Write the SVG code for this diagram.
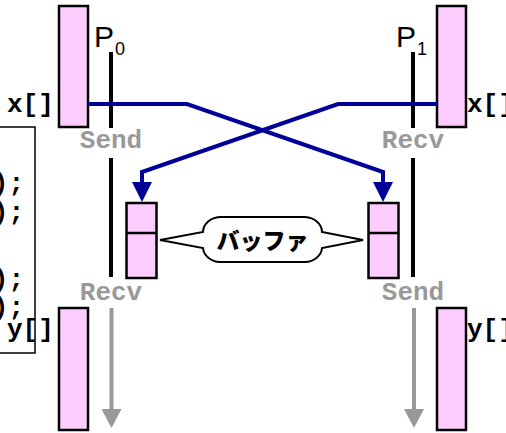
<svg xmlns="http://www.w3.org/2000/svg" width="506" height="433" viewBox="0 0 506 433">
<style>
.arr{fill:#FFCCFF;stroke:#000;stroke-width:2.5}
.mono{font-family:"Liberation Mono","Courier New",monospace;font-weight:bold;font-size:26px}
.lbl{fill:#999999;text-anchor:middle}
.proc{font-family:"Liberation Sans",Arial,sans-serif;font-size:30px;fill:#000}
.sub{font-size:18px}
.tl{stroke:#000;stroke-width:4;fill:none}
.ga{stroke:#999999;stroke-width:4;fill:none;marker-end:url(#ga)}
.bl{stroke:#000099;stroke-width:4;fill:none;stroke-linejoin:miter;marker-end:url(#ba)}
</style>
<defs>
<marker id="ba" markerUnits="userSpaceOnUse" markerWidth="20" markerHeight="20" refX="0" refY="10" orient="auto" viewBox="0 0 20 20">
<path d="M0,0 L20,10 L0,20 Z" fill="#000099"/>
</marker>
<marker id="ga" markerUnits="userSpaceOnUse" markerWidth="20" markerHeight="20" refX="0" refY="10" orient="auto" viewBox="0 0 20 20">
<path d="M0,0 L19,10 L0,20 Z" fill="#999999"/>
</marker>
</defs>
<rect width="506" height="433" fill="#fff"/>

<g id="code">
<rect x="-2" y="127" width="37" height="226" fill="none" stroke="#000" stroke-width="1.5"/>
<text class="mono" x="24" y="191" text-anchor="end">);</text>
<text class="mono" x="24" y="220" text-anchor="end">);</text>
<text class="mono" x="24" y="287" text-anchor="end">);</text>
<text class="mono" x="24" y="315" text-anchor="end">);</text>
</g>

<g id="p0">
<text class="proc" x="94" y="47">P<tspan class="sub" dx="1" dy="8">0</tspan></text>
<line class="tl" x1="111" y1="52" x2="111" y2="128"/>
<line class="tl" x1="111" y1="158" x2="111" y2="277"/>
<text class="mono lbl" x="111" y="148">Send</text>
<text class="mono lbl" x="111" y="300">Recv</text>
</g>

<g id="p1">
<text class="proc" x="396" y="47">P<tspan class="sub" dx="1" dy="8">1</tspan></text>
<line class="tl" x1="413" y1="52" x2="413" y2="128"/>
<line class="tl" x1="413" y1="158" x2="413" y2="277"/>
<text class="mono lbl" x="413" y="148">Recv</text>
<text class="mono lbl" x="413" y="300">Send</text>
</g>

<g id="x0">
<rect class="arr" x="59" y="6" width="29" height="121"/>
<text class="mono" x="7" y="112">x[]</text>
</g>
<g id="x1">
<rect class="arr" x="437" y="6" width="29" height="121"/>
<text class="mono" x="467" y="112">x[]</text>
</g>
<g id="y0">
<rect class="arr" x="59" y="308" width="29" height="122"/>
<text class="mono" x="7" y="337">y[]</text>
</g>
<g id="y1">
<rect class="arr" x="437" y="308" width="29" height="122"/>
<text class="mono" x="467" y="337">y[]</text>
</g>

<g id="buf0">
<rect class="arr" x="126.5" y="203" width="30" height="75"/>
<line x1="126.5" y1="233" x2="156.5" y2="233" stroke="#000" stroke-width="2.5"/>
</g>
<g id="buf1">
<rect class="arr" x="368.5" y="203" width="30" height="75"/>
<line x1="368.5" y1="233" x2="398.5" y2="233" stroke="#000" stroke-width="2.5"/>
</g>

<g id="callout">
<path d="M220,217 H305 A18,15 0 0 1 322,232 L363,240 L322,248 A18,15 0 0 1 305,262 H220 A18,15 0 0 1 203,248 L160,240 L203,232 A18,15 0 0 1 220,217 Z" fill="#fff" stroke="#000" stroke-width="2"/>
<text x="262.5" y="249" text-anchor="middle" font-family="'Noto Sans CJK JP',sans-serif" font-weight="900" font-size="23">バッファ</text>
</g>

<g id="connectors">
<polyline class="bl" points="88,104 187,104 383,172 383,182"/>
<polyline class="bl" points="437,104 338,104 142,172 142,182"/>
<line class="ga" x1="111.5" y1="308" x2="111.5" y2="409"/>
<line class="ga" x1="414" y1="308" x2="414" y2="409"/>
</g>
</svg>
